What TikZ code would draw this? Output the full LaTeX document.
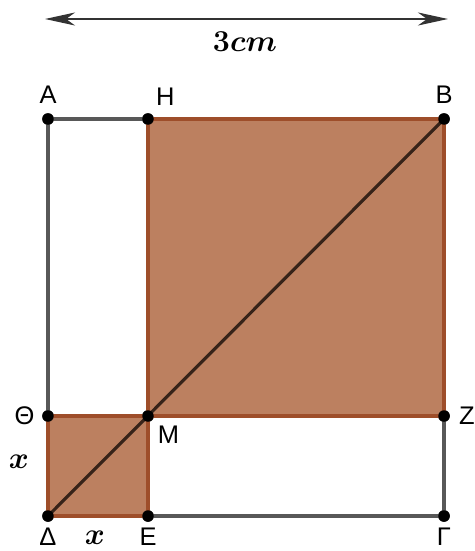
\documentclass[tikz,border=0pt]{standalone}
\usepackage{amsmath}
\usepackage{bm}
\usepackage[no-math]{fontspec}
\newfontfamily\lblfont{Liberation Sans}
\usepackage{tikz}
\usetikzlibrary{arrows.meta,positioning}
\usepackage{xcolor}
\definecolor{brownfill}{RGB}{188,128,96}
\definecolor{brownedge}{RGB}{158,78,42}
\definecolor{sidegray}{RGB}{88,88,88}
\definecolor{diagcol}{RGB}{55,35,25}

\begin{document}
\begin{tikzpicture}[
x=0.02cm,y=-0.02cm,
dot/.style={circle,fill=black,inner sep=0pt,minimum size=2.3mm},
lbl/.style={font=\lblfont\fontsize{14.5}{16}\selectfont,inner sep=1pt},
side/.style={line width=2pt,draw=sidegray},
sq/.style={fill=brownfill,draw=brownedge,line width=2pt},
arr/.style={{Stealth[length=6mm,width=2.6mm,inset=1.8mm]}-{Stealth[length=6mm,width=2.6mm,inset=1.8mm]},line width=1.5pt,draw=black!80}
]
\useasboundingbox (0,0) rectangle (474,551);

% vertices
\node[dot] (A) at (48,119) {};
\node[dot] (H) at (148,119) {};
\node[dot] (B) at (444,119) {};
\node[dot] (T) at (48,416) {};
\node[dot] (M) at (148,416) {};
\node[dot] (Z) at (444,416) {};
\node[dot] (D) at (48,516) {};
\node[dot] (E) at (148,516) {};
\node[dot] (G) at (444,516) {};

% squares
\filldraw[sq] (H.center) rectangle (Z.center);
\filldraw[sq] (T.center) rectangle (E.center);
\draw[side] (T.center) -- (A.center) -- (H.center);
\draw[side] (E.center) -- (G.center) -- (Z.center);
\draw[line width=1.8pt,draw=diagcol] (D.center) -- (B.center);
\foreach \p in {A,H,B,T,M,Z,D,E,G} \node[dot] at (\p) {};

% labels
\node[lbl,above=4pt of A] (lA) {A};
\node[lbl,above right=4pt and 1pt of H] (lH) {H};
\node[lbl,above=4pt of B] (lB) {B};
\node[lbl,left=3pt of T] (lT) {Θ};
\node[lbl,below right=2pt and 2pt of M] (lM) {M};
\node[lbl,right=4pt of Z] (lZ) {Z};
\node[lbl,below=2pt of D] (lD) {Δ};
\node[lbl,below=2pt of E] (lE) {E};
\node[lbl,below=2pt of G] (lG) {Γ};
\node[font=\fontsize{16}{18}\selectfont] (xl) at (19,462) {$\bm{x}$};
\node[font=\fontsize{16}{18}\selectfont] (xb) at (95,538) {$\bm{x}$};

% length arrow
\coordinate (ar1) at (45,19);
\coordinate (ar2) at (448,19);
\draw[arr] (ar1) -- (ar2);
\node[font=\fontsize{17}{19}\selectfont] (len) at (245,42) {$\bm{3cm}$};
\end{tikzpicture}
\end{document}
